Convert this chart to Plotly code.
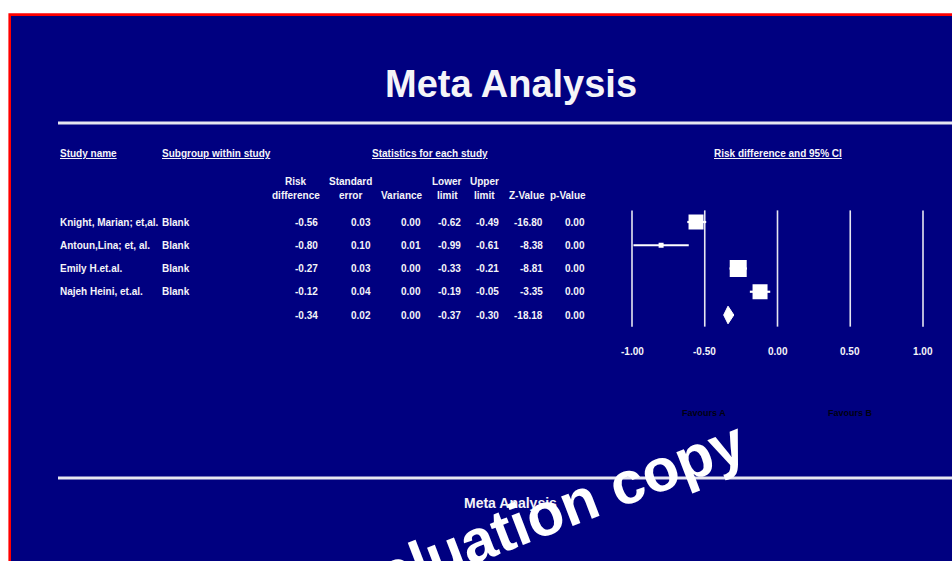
import plotly.graph_objects as go

# ---------------- data ----------------
studies = ["Knight, Marian; et,al.", "Antoun,Lina; et, al.", "Emily H.et.al.", "Najeh Heini, et.al."]
subgroups = ["Blank", "Blank", "Blank", "Blank"]
risk_diff = [-0.56, -0.80, -0.27, -0.12]
std_err = [0.03, 0.10, 0.03, 0.04]
variance = [0.00, 0.01, 0.00, 0.00]
lower = [-0.62, -0.99, -0.33, -0.19]
upper = [-0.49, -0.61, -0.21, -0.05]
z_value = [-16.80, -8.38, -8.81, -3.35]
p_value = [0.00, 0.00, 0.00, 0.00]

sum_rd, sum_se, sum_var = -0.34, 0.02, 0.00
sum_lower, sum_upper = -0.37, -0.30
sum_z, sum_p = -18.18, 0.00

box_size = [15, 5, 17, 15]          # relative study weights (marker size)
axis_ticks = [-1.0, -0.5, 0.0, 0.5, 1.0]
tick_labels = ["-1.00", "-0.50", "0.00", "0.50", "1.00"]

# ---------------- layout helpers ----------------
W, H = 952, 561
NAVY = "#000080"
TXT = "#f4f4f8"
FONT = "Liberation Sans, Arial, sans-serif"

def px(x):
    return x / W

def py(y):
    return 1 - y / H

# x axis: -1 -> 632px, +1 -> 923px
X0, X1 = 632.0, 923.0
scale = (X1 - X0) / 2.0
xr = [-1 + (0 - X0) / scale, -1 + (W - X0) / scale]
# y axis: row i centered at 222 + 23.25*i px
R0, RS = 222.0, 23.25
yr = [(H - R0) / RS, (0 - R0) / RS]

fig = go.Figure()

# CI lines
ci_x, ci_y = [], []
for i, (lo, hi) in enumerate(zip(lower, upper)):
    ci_x += [lo, hi, None]
    ci_y += [i, i, None]
fig.add_trace(go.Scatter(x=ci_x, y=ci_y, mode="lines",
                         line=dict(color="white", width=2.2),
                         hoverinfo="skip", showlegend=False, cliponaxis=False))
# point estimates
fig.add_trace(go.Scatter(x=risk_diff, y=list(range(len(risk_diff))), mode="markers",
                         marker=dict(symbol="square", size=box_size, color="white",
                                     opacity=1, line=dict(width=0)),
                         showlegend=False, cliponaxis=False))
# summary diamond
n = len(risk_diff)
h = 0.38
fig.add_trace(go.Scatter(x=[sum_lower, sum_rd, sum_upper, sum_rd, sum_lower],
                         y=[n, n - h, n, n + h, n], mode="lines", fill="toself",
                         fillcolor="white", line=dict(color="white", width=1),
                         showlegend=False, cliponaxis=False))

shapes = []
# page frame (red border + navy panel)
shapes.append(dict(type="rect", xref="paper", yref="paper",
                   x0=px(9.7), x1=px(W + 10), y0=py(14.6), y1=py(H + 10),
                   line=dict(color="#ff0000", width=2.6), fillcolor=NAVY, layer="below"))
# horizontal rules
for yy in (123, 478):
    shapes.append(dict(type="line", xref="paper", yref="paper",
                       x0=px(58), x1=px(W + 5), y0=py(yy), y1=py(yy),
                       line=dict(color="#e6e6f0", width=3)))
# forest grid verticals
for t in axis_ticks:
    shapes.append(dict(type="line", xref="x", yref="y", x0=t, x1=t,
                       y0=-0.5, y1=n + 0.5, line=dict(color="#e6e6f0", width=1.6),
                       layer="below"))

ann = []

def text(x, y, s, size=10, xanchor="center", color=TXT, yref="paper", under=False, **kw):
    f = dict(family=FONT, size=size, color=color)
    if under:
        f["lineposition"] = "under"
    d = dict(x=px(x), xref="paper", y=(py(y) if yref == "paper" else y), yref=yref,
             text="<b>%s</b>" % s, showarrow=False, xanchor=xanchor, yanchor="middle",
             font=f)
    d.update(kw)
    ann.append(d)

# titles
text(511, 84, "Meta Analysis", size=38)
text(510, 503, "Meta Analysis", size=14)

# column group headers
text(58, 153, "Study name", xanchor="left", under=True)
text(160, 153, "Subgroup within study", xanchor="left", under=True)
text(430, 153, "Statistics for each study", under=True)
text(778, 153, "Risk difference and 95% CI", under=True)

rd_all = risk_diff + [sum_rd]
se_all = std_err + [sum_se]
var_all = variance + [sum_var]
lo_all = lower + [sum_lower]
hi_all = upper + [sum_upper]
z_all = z_value + [sum_z]
p_all = p_value + [sum_p]

columns = [
    ("Risk", "difference", rd_all, 320, 296),
    ("Standard", "error", se_all, 373, 350),
    ("", "Variance", var_all, 423, 402),
    ("Lower", "limit", lo_all, 463, 447),
    ("Upper", "limit", hi_all, 501, 485),
    ("", "Z-Value", z_all, 545, 527),
    ("", "p-Value", p_all, 587, 568),
]
for h1, h2, vals, right, center in columns:
    if h1:
        text(center, 181, h1)
    text(center, 195, h2)
    for i, v in enumerate(vals):
        text(right, i, "%.2f" % v, xanchor="right", yref="y")

for i, (s, g) in enumerate(zip(studies, subgroups)):
    text(58, i, s, xanchor="left", yref="y")
    text(160, i, g, xanchor="left", yref="y")

# axis tick labels (placed through the x axis scale)
for t, lab in zip(axis_ticks, tick_labels):
    ann.append(dict(x=t, xref="x", y=(351 - R0) / RS, yref="y", text="<b>%s</b>" % lab,
                    showarrow=False, xanchor="center", yanchor="middle",
                    font=dict(family=FONT, size=10, color=TXT)))

text(704, 413, "Favours A", size=9, color="#000010")
text(850, 413, "Favours B", size=9, color="#000010")

# watermark
text(527, 521, "Evaluation copy", size=60, color="white", textangle=-21)

fig.update_layout(
    width=W, height=H, margin=dict(l=0, r=0, t=0, b=0),
    paper_bgcolor="white", plot_bgcolor="rgba(0,0,0,0)",
    xaxis=dict(range=xr, visible=False, domain=[0, 1], fixedrange=True),
    yaxis=dict(range=yr, visible=False, domain=[0, 1], fixedrange=True),
    shapes=shapes, annotations=ann, showlegend=False,
)

fig.write_html("out.html", post_script="document.body.style.margin='0';",
               config={"displayModeBar": False})
